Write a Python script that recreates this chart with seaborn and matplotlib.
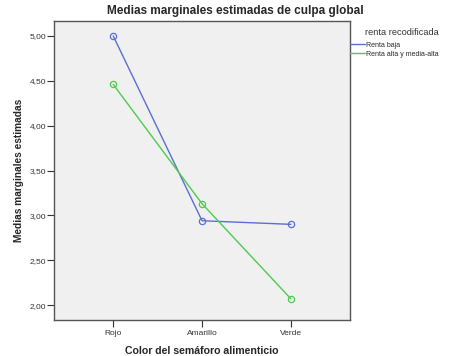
import pandas as pd
import seaborn as sns
import matplotlib.pyplot as plt
from matplotlib.lines import Line2D

# Data
colores = ['Rojo', 'Amarillo', 'Verde']
renta_baja = [5.00, 2.94, 2.90]
renta_alta = [4.46, 3.13, 2.07]
grupos = ['Renta baja', 'Renta alta y media-alta']
yticks = [2.0, 2.5, 3.0, 3.5, 4.0, 4.5, 5.0]

df = pd.DataFrame({
    'color': colores * 2,
    'media': renta_baja + renta_alta,
    'renta': [grupos[0]] * 3 + [grupos[1]] * 3,
})
df['x'] = df['color'].map({c: i for i, c in enumerate(colores)})

sns.set_style('white')
plt.rcParams['font.family'] = ['Liberation Sans', 'DejaVu Sans']

palette = {grupos[0]: '#5a6fd0', grupos[1]: '#4ccc4c'}

fig = plt.figure(figsize=(4.5, 3.56), dpi=100)
ax = fig.add_axes([0.12, 0.101, 0.658, 0.84])
ax.set_facecolor('#f0f0f0')

sns.lineplot(data=df, x='x', y='media', hue='renta', palette=palette,
             marker='o', markersize=4.5, markerfacecolor='none',
             markeredgewidth=0.9, linewidth=1.0, ax=ax, legend=False)
# marker edge colors follow line color
for line in ax.get_lines():
    line.set_markeredgecolor(line.get_color())

ax.set_xlim(-0.667, 2.667)
ax.set_ylim(1.833, 5.167)
ax.set_xticks(range(len(colores)))
ax.set_xticklabels(colores)
ax.set_yticks(yticks)
ax.set_yticklabels([f'{v:.2f}'.replace('.', ',') for v in yticks])
ax.tick_params(axis='both', labelsize=6, length=5, width=0.8,
               colors='#333333', direction='out', left=True, bottom=True)
ax.tick_params(axis='y', pad=0.5)
ax.tick_params(axis='x', pad=2)

for s in ax.spines.values():
    s.set_color('#555555')
    s.set_linewidth(1.0)

ax.set_xlabel('Color del semáforo alimenticio', fontsize=7.6, fontweight='bold', labelpad=7)
ax.set_ylabel('Medias marginales estimadas', fontsize=7.3, fontweight='bold', labelpad=4)
fig.text(235 / 450, 1 - 11 / 356, 'Medias marginales estimadas de culpa global',
         fontsize=8.5, fontweight='bold', ha='center', va='center')

handles = [Line2D([], [], color=palette[g], linewidth=1.0) for g in grupos]
leg = ax.legend(handles, grupos, title='renta recodificada', loc='upper left',
                bbox_to_anchor=(1.0, 0.975), frameon=False, fontsize=5.0,
                title_fontsize=6.7, handlelength=2.2, handletextpad=0.15,
                labelspacing=0.3, borderaxespad=0.0, borderpad=0.0)
leg._legend_box.align = 'right'
leg._legend_box.sep = 3
leg.get_title().set_color('#333333')

plt.savefig('out.png', dpi=100)
